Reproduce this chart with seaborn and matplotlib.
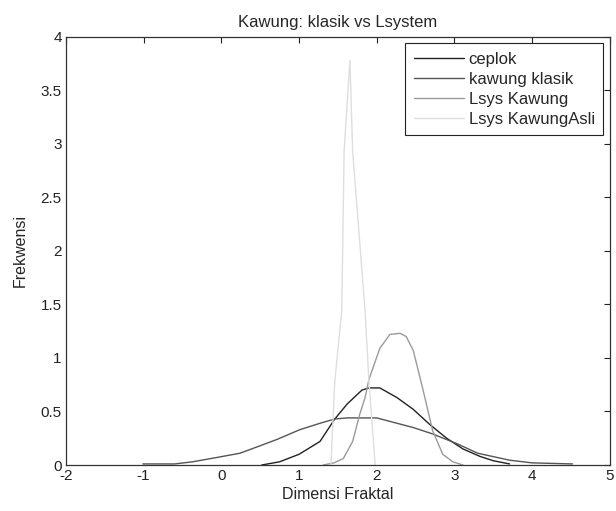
import pandas as pd
import matplotlib
matplotlib.use("Agg")
import matplotlib.pyplot as plt
import seaborn as sns

# data (kurva pdf per kelompok)
ceplok_x = [0.52, 0.75, 1.00, 1.27, 1.46, 1.62, 1.81, 1.90, 2.04, 2.26, 2.47, 2.68, 2.90, 3.11, 3.33, 3.50, 3.71]
ceplok_y = [0.00, 0.03, 0.10, 0.22, 0.43, 0.57, 0.70, 0.72, 0.72, 0.63, 0.52, 0.38, 0.25, 0.15, 0.08, 0.04, 0.01]

klasik_x = [-1.01, -0.60, -0.37, -0.06, 0.24, 0.50, 0.72, 1.01, 1.27, 1.46, 1.62, 2.00, 2.26, 2.47, 2.72, 3.03, 3.30, 3.71, 4.00, 4.52]
klasik_y = [0.01, 0.01, 0.03, 0.07, 0.11, 0.18, 0.24, 0.33, 0.39, 0.43, 0.44, 0.44, 0.39, 0.35, 0.29, 0.20, 0.11, 0.045, 0.02, 0.01]

lsys_x = [1.31, 1.45, 1.57, 1.69, 1.78, 1.85, 1.90, 2.04, 2.17, 2.30, 2.38, 2.47, 2.59, 2.72, 2.85, 2.98, 3.11]
lsys_y = [0.00, 0.02, 0.06, 0.22, 0.47, 0.63, 0.80, 1.09, 1.22, 1.23, 1.20, 1.07, 0.72, 0.32, 0.10, 0.03, 0.00]

asli_x = [1.41, 1.46, 1.55, 1.58, 1.655, 1.69, 1.85, 1.90, 1.98]
asli_y = [0.00, 0.78, 1.44, 2.93, 3.78, 2.93, 1.44, 0.78, 0.00]

labels = ["ceplok", "kawung klasik", "Lsys Kawung", "Lsys KawungAsli"]
warna = ["#222222", "#555555", "#9a9a9a", "#dedede"]

frames = []
for lab, xs, ys in zip(labels, [ceplok_x, klasik_x, lsys_x, asli_x],
                       [ceplok_y, klasik_y, lsys_y, asli_y]):
    frames.append(pd.DataFrame({"x": xs, "y": ys, "seri": lab}))
df = pd.concat(frames, ignore_index=True)

sns.set_style("white")
plt.rcParams["font.family"] = ["Liberation Sans", "DejaVu Sans"]
plt.rcParams["axes.unicode_minus"] = False

fig = plt.figure(figsize=(6.16, 5.11), dpi=100)
ax = fig.add_axes([0.107, 0.090, 0.883, 0.838])

sns.lineplot(data=df, x="x", y="y", hue="seri", hue_order=labels,
             palette=warna, sort=False, estimator=None, linewidth=1.0, ax=ax)

ax.set_xlim(-2, 5)
ax.set_ylim(0, 4)
ax.set_xticks(range(-2, 6))
ax.set_yticks([0, 0.5, 1, 1.5, 2, 2.5, 3, 3.5, 4])
ax.set_yticklabels(["0", "0.5", "1", "1.5", "2", "2.5", "3", "3.5", "4"])
ax.tick_params(direction="in", length=4, width=0.8, colors="#222222",
               top=True, right=True, labelsize=11, pad=3)
for s in ax.spines.values():
    s.set_color("#333333")
    s.set_linewidth(0.9)

ax.set_title("Kawung: klasik vs Lsystem", fontsize=12, pad=7)
ax.set_xlabel("Dimensi Fraktal", fontsize=11.5, labelpad=3)
ax.set_ylabel("Frekwensi", fontsize=11.5, labelpad=9)

leg = ax.legend(loc="upper right", frameon=True, fancybox=False, fontsize=12,
                borderaxespad=0.4, handlelength=3.0, handletextpad=0.3,
                labelspacing=0.3, borderpad=0.5)
leg.get_frame().set_edgecolor("#222222")
leg.get_frame().set_linewidth(0.8)
leg.get_frame().set_alpha(1)

plt.savefig("out.png", dpi=100)
